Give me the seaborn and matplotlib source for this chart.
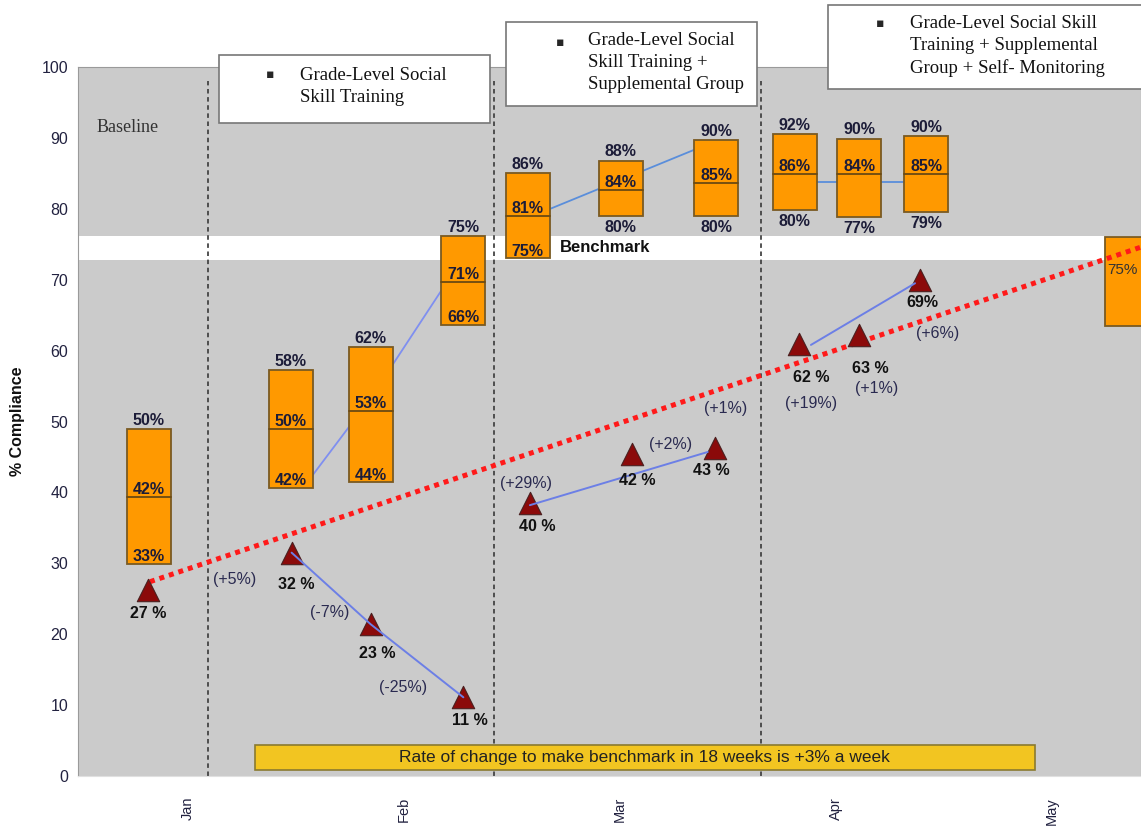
### Social skill compliance chart ###

import numpy as np
import pandas as pd
import matplotlib
matplotlib.use("Agg")
import matplotlib.pyplot as plt
from matplotlib.patches import Rectangle
import seaborn as sns

# x positions are in months from Jan (Jan=0, Feb=1, ...)

# weekly range boxes: low / median / high
box_x = [-0.181, 0.477, 0.846, 1.275, 1.573, 2.004, 2.446, 2.809, 3.108, 3.418]
box_low = [29.9, 40.6, 41.4, 63.6, 73.0, 79.0, 79.0, 79.8, 78.9, 79.6]
box_mid = [39.4, 49.0, 51.5, 69.7, 79.0, 82.7, 83.7, 84.9, 84.9, 84.9]
box_high = [48.9, 57.3, 60.5, 76.1, 85.0, 86.8, 89.7, 90.5, 89.9, 90.3]
box_top_lbl = ["50%", "58%", "62%", "75%", "86%", "88%", "90%", "92%", "90%", "90%"]
box_mid_lbl = ["42%", "50%", "53%", "71%", "81%", "84%", "85%", "86%", "84%", "85%"]
box_bot_lbl = ["33%", "42%", "44%", "66%", "75%", "80%", "80%", "80%", "77%", "79%"]

# goal box at the right edge
goal_x = 4.347
goal_low = 63.5
goal_high = 76.0
goal_lbl = "75%"

# target student scores (triangles)
tri_x = [-0.185, 0.480, 0.846, 1.275, 1.583, 2.055, 2.440, 2.830, 3.108, 3.389]
tri_y = [26.2, 31.5, 21.4, 11.1, 38.5, 45.4, 46.3, 60.9, 62.2, 70.0]
tri_lbl = ["27 %", "32 %", "23 %", "11 %", "40 %", "42 %", "43 %", "62 %", "63 %", "69%"]
# where the score labels sit
tri_lbl_x = [-0.185, 0.500, 0.875, 1.303, 1.616, 2.078, 2.421, 2.884, 3.157, 3.398]
tri_lbl_y = [22.9, 27.0, 17.3, 7.8, 35.2, 41.7, 43.1, 56.2, 57.5, 66.8]

# week-to-week change labels
chg_lbl = ["(+5%)", "(-7%)", "(-25%)", "(+29%)", "(+2%)", "(+1%)", "(+19%)", "(+1%)", "(+6%)"]
chg_x = [0.218, 0.657, 0.995, 1.563, 2.235, 2.488, 2.884, 3.186, 3.470]
chg_y = [27.7, 23.0, 12.5, 41.3, 46.8, 51.9, 52.6, 54.7, 62.4]

# blue trend segments
line_a_x = [0.480, 0.846, 1.275]
line_a_y = [31.5, 21.4, 11.1]
line_b_x = [1.583, 2.406]
line_b_y = [38.2, 45.7]
line_c_x = [2.884, 3.366]
line_c_y = [60.8, 69.5]
box_line1_x = [0.579, 0.846, 1.275]
box_line1_y = [42.5, 53.3, 73.2]
box_line2_x = [1.573, 2.446]
box_line2_y = [78.7, 89.6]
box_line3_x = [2.809, 3.418]
box_line3_y = [83.8, 83.8]

# aim line and benchmark band
aim_x = [-0.176, 4.412]
aim_y = [27.4, 74.6]
bench_low, bench_high = 72.8, 76.2

# phase change lines
phase_x = [0.091, 1.417, 2.654]

month_ticks = [0, 0.5, 1, 1.5, 2, 2.5, 3, 3.5, 4]
month_lbls = ["Jan", "", "Feb", "", "Mar", "", "Apr", "", "May"]

sns.set_style("white")
plt.rcParams["font.family"] = ["Liberation Sans", "DejaVu Sans"]

txt = "#1c1c38"
fig = plt.figure(figsize=(11.41, 8.26), dpi=100)
ax = fig.add_axes([78 / 1141, 50 / 826, 1063 / 1141, 709 / 826])
ax.set_facecolor("#CBCBCB")
ax.set_xlim(-0.509, 4.412)
ax.set_ylim(0, 100)

# benchmark band
ax.axhspan(bench_low, bench_high, color="white", zorder=1, lw=0)
ax.text(1.72, 74.5, "Benchmark", fontsize=12, fontweight="bold", color="#111",
        va="center", zorder=6)

for px in phase_x:
    ax.plot([px, px], [0, 98], color="#444", ls=(0, (2.5, 2)), lw=1.3, zorder=2)

# connector lines behind boxes
for lx, ly, c in [(box_line1_x, box_line1_y, "#7f8ff0"),
                  (box_line2_x, box_line2_y, "#5a8edb"),
                  (box_line3_x, box_line3_y, "#5a8edb")]:
    sns.lineplot(x=lx, y=ly, ax=ax, color=c, lw=1.3, sort=False, estimator=None, zorder=3)

# boxes
w = 0.204
ax.bar(box_x, np.array(box_high) - np.array(box_low), bottom=box_low, width=w,
       color="#FF9900", edgecolor="#7a5a22", lw=1.3, zorder=4)
ax.bar([goal_x], [goal_high - goal_low], bottom=[goal_low], width=w,
       color="#FF9900", edgecolor="#7a5a22", lw=1.3, zorder=4)
for i, x in enumerate(box_x):
    ax.plot([x - w / 2, x + w / 2], [box_mid[i], box_mid[i]], color="#6b4a12", lw=1.3, zorder=5)
    kw = dict(ha="center", fontsize=11.5, fontweight="bold", color=txt, zorder=7,
              textcoords="offset points")
    ax.annotate(box_top_lbl[i], (x, box_high[i]), xytext=(0, 3), va="baseline", **kw)
    ax.annotate(box_mid_lbl[i], (x, box_mid[i]), xytext=(0, 2), va="baseline", **kw)
    if i < 5:
        ax.annotate(box_bot_lbl[i], (x, box_low[i]), xytext=(0, 2), va="baseline", **kw)
    else:
        ax.annotate(box_bot_lbl[i], (x, box_low[i]), xytext=(0, -3), va="top", **kw)
ax.text(goal_x - 0.09, 71.4, goal_lbl, fontsize=11, color="#333", va="center", zorder=7)

# aim line
ax.plot(aim_x, aim_y, color="#FF1A1A", lw=3.6, ls=(0, (1, 1)), zorder=8)

# triangles and their trend lines
sns.scatterplot(x=tri_x, y=tri_y, ax=ax, marker="^", s=260, color="#8B0A0A",
                edgecolor="#4a2020", linewidth=0.8, zorder=9)
for lx, ly in [(line_a_x, line_a_y), (line_b_x, line_b_y), (line_c_x, line_c_y)]:
    sns.lineplot(x=lx, y=ly, ax=ax, color="#6c7fe6", lw=1.4, sort=False, estimator=None, zorder=10)
for x, y, s in zip(tri_lbl_x, tri_lbl_y, tri_lbl):
    ax.text(x, y, s, ha="center", va="center", fontsize=11.5, fontweight="bold",
            color="#111", zorder=11)
for x, y, s in zip(chg_x, chg_y, chg_lbl):
    ax.text(x, y, s, ha="center", va="center", fontsize=11.5, color="#2a2a50", zorder=11)

# rate of change box
ax.add_patch(Rectangle((0.31, 0.85), 3.61, 3.52, fc="#F2C521", ec="#8a7a30", lw=1.2, zorder=12))
ax.text(2.115, 2.6, "Rate of change to make benchmark in 18 weeks is +3% a week",
        ha="center", va="center", fontsize=12.5, color="#222", zorder=13)

ax.text(-0.421, 91.5, "Baseline", family="Liberation Serif", fontsize=13, color="#333",
        va="center", zorder=6)

# phase description boxes
phases = [
    (0.144, 92.1, 1.254, 9.6, 0.38, 98.9, 0.519, 97.3, "Grade-Level Social\nSkill Training"),
    (1.472, 94.5, 1.162, 11.8, 1.722, 103.5, 1.852, 100.6,
     "Grade-Level Social\nSkill Training +\nSupplemental Group"),
    (2.963, 96.9, 1.6, 11.8, 3.204, 106.2, 3.343, 103.0,
     "Grade-Level Social Skill\nTraining + Supplemental\nGroup + Self- Monitoring"),
]
for bx, by, bw, bh, dx, dy, tx, ty, s in phases:
    ax.add_patch(Rectangle((bx, by), bw, bh, fc="white", ec="#777", lw=1.2,
                           zorder=14, clip_on=False))
    ax.text(dx, dy, "▪", family=["DejaVu Sans"], fontsize=9, ha="center", va="center",
            zorder=15, clip_on=False)
    ax.text(tx, ty, s, family="Liberation Serif", fontsize=13.5, ha="left", va="center",
            linespacing=1.38, color="#111", zorder=15, clip_on=False)

ax.set_yticks(np.arange(0, 101, 10))
ax.set_xticks(month_ticks)
ax.set_xticklabels(month_lbls, rotation=90)
ax.tick_params(axis="y", length=3, color="#aaa", labelsize=11.5, labelcolor="#222240", pad=4)
ax.tick_params(axis="x", length=5, color="#bbb", labelsize=10.5, labelcolor="#222240",
               pad=10, direction="out")
ax.set_ylabel("% Compliance", fontsize=11.5, fontweight="bold", color="#111")
ax.yaxis.set_label_coords(-0.05, 0.5)
for sp in ax.spines.values():
    sp.set_color("#9a9a9a")
    sp.set_linewidth(0.8)
ax.spines["bottom"].set_color("#e0e0e0")

fig.savefig("out.png", dpi=100)
